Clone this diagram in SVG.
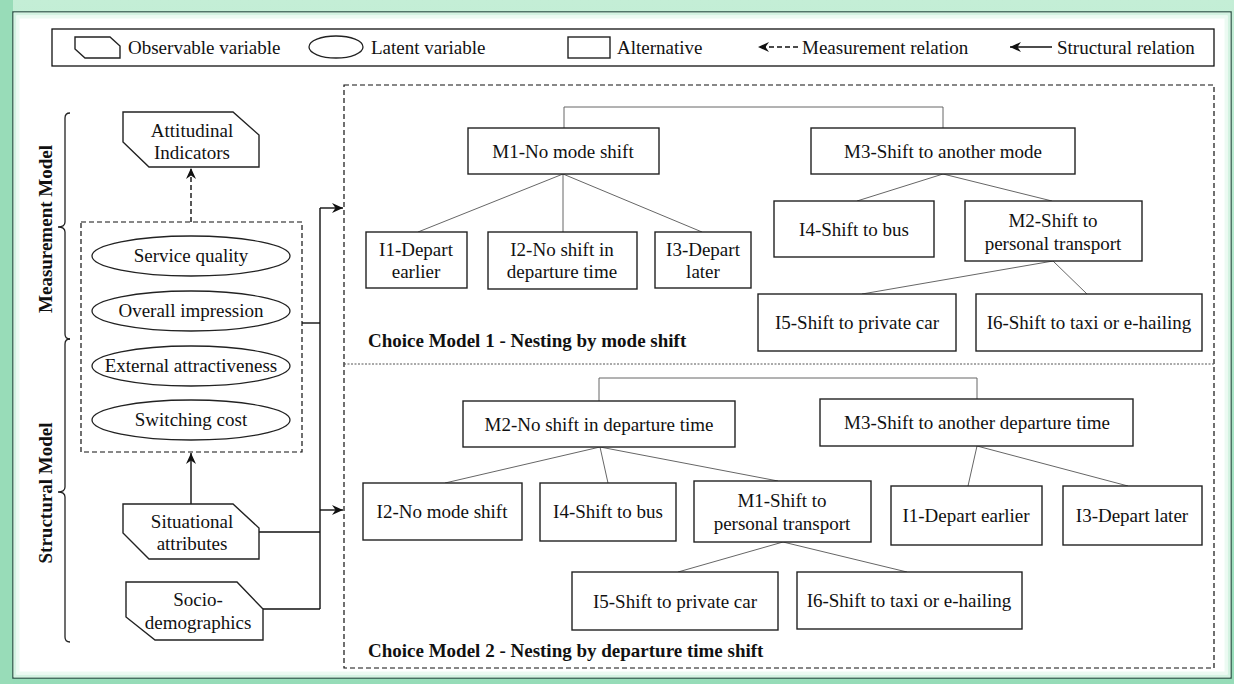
<svg xmlns="http://www.w3.org/2000/svg" width="1234" height="684" viewBox="0 0 1234 684">
<defs>
<style>
text{font-family:"Liberation Serif","Times New Roman",serif;font-size:19px;fill:#111;}
.c{text-anchor:middle;}
.b{font-weight:bold;}
.box{fill:#fff;stroke:#222;stroke-width:1.4;}
.obs{fill:#fff;stroke:#222;stroke-width:1.4;}
.ell{fill:#fff;stroke:#222;stroke-width:1.3;}
.tl{fill:none;stroke:#666;stroke-width:1;}
.sl{fill:none;stroke:#111;stroke-width:1.4;}
.dl{fill:none;stroke:#111;stroke-width:1.4;stroke-dasharray:5,3;}
.dbox{fill:none;stroke:#111;stroke-width:1.2;stroke-dasharray:5,3;}
.br{fill:none;stroke:#222;stroke-width:1.3;}
</style>
<marker id="arr" markerUnits="userSpaceOnUse" markerWidth="12" markerHeight="10" refX="11" refY="5" orient="auto">
<path d="M0,0 L11,5 L0,10 L3.5,5 z" fill="#111"/>
</marker>
<linearGradient id="fr" x1="0" y1="0" x2="0" y2="1">
<stop offset="0" stop-color="#c4eed6"/>
<stop offset="1" stop-color="#96dcb8"/>
</linearGradient>
</defs>

<g id="frame">
<rect x="0" y="0" width="1234" height="684" fill="url(#fr)"/>
<rect x="0" y="0" width="13" height="684" fill="#98dcb8"/>
<rect x="13" y="12" width="1218" height="666" fill="#fff" stroke="#2e4f45" stroke-width="1.5"/>
<rect x="15" y="14" width="1214" height="662" fill="none" stroke="#d4f3e2" stroke-width="3"/>
<rect x="18" y="17" width="1208" height="656" fill="none" stroke="#ecfaf2" stroke-width="3"/>
</g>

<g id="legend">
<rect x="52" y="29" width="1162" height="37" fill="#fff" stroke="#111" stroke-width="1.3"/>
<polygon class="obs" points="75,37 110,37 120,46 120,58 85,58 75,49"/>
<text x="128" y="54">Observable variable</text>
<ellipse class="ell" cx="336" cy="47" rx="27" ry="11"/>
<text x="371" y="54">Latent variable</text>
<rect class="box" x="568" y="37" width="42" height="21"/>
<text x="617" y="54">Alternative</text>
<line class="dl" x1="798" y1="47" x2="758" y2="47" stroke-dasharray="4,3" marker-end="url(#arr)"/>
<text x="802" y="54">Measurement relation</text>
<line class="sl" x1="1052" y1="47" x2="1010" y2="47" marker-end="url(#arr)"/>
<text x="1057" y="54">Structural relation</text>
</g>

<g id="measurement-brace">
<path class="br" d="M70,113 Q65,113 65,118 L65,222 Q65,227 58,227 Q65,227 65,232 L65,334 Q65,339 70,339"/>
<text class="b c" transform="translate(45,229) rotate(-90)" x="0" y="7">Measurement Model</text>
</g>
<g id="structural-brace">
<path class="br" d="M70,339 Q65,339 65,344 L65,487 Q65,492 58,492 Q65,492 65,497 L65,637 Q65,642 70,642"/>
<text class="b c" transform="translate(45,493) rotate(-90)" x="0" y="7">Structural Model</text>
</g>

<g id="connectors">
<line class="dl" x1="191" y1="222" x2="191" y2="168" marker-end="url(#arr)"/>
<line class="sl" x1="191" y1="504" x2="191" y2="453" marker-end="url(#arr)"/>
<polyline class="sl" points="302,323 320,323"/>
<line class="sl" x1="320" y1="208" x2="320" y2="609"/>
<line class="sl" x1="320" y1="208" x2="343" y2="208" marker-end="url(#arr)"/>
<line class="sl" x1="320" y1="510" x2="343" y2="510" marker-end="url(#arr)"/>
<line class="sl" x1="259" y1="532" x2="320" y2="532"/>
<line class="sl" x1="263" y1="609" x2="320" y2="609"/>
<polyline class="tl" points="564,128 564,107 943,107 943,128"/>
<line class="tl" x1="563" y1="174" x2="418" y2="232"/>
<line class="tl" x1="563" y1="174" x2="563" y2="232"/>
<line class="tl" x1="563" y1="174" x2="702" y2="232"/>
<line class="tl" x1="943" y1="174" x2="857" y2="201"/>
<line class="tl" x1="943" y1="174" x2="1052" y2="201"/>
<line class="tl" x1="1053" y1="261" x2="862" y2="294"/>
<line class="tl" x1="1053" y1="261" x2="1087" y2="294"/>
<polyline class="tl" points="599,401 599,378 977,378 977,399"/>
<line class="tl" x1="600" y1="447" x2="445" y2="483"/>
<line class="tl" x1="600" y1="447" x2="608" y2="483"/>
<line class="tl" x1="600" y1="447" x2="778" y2="481"/>
<line class="tl" x1="977" y1="446" x2="968" y2="486"/>
<line class="tl" x1="977" y1="446" x2="1128" y2="486"/>
<line class="tl" x1="783" y1="542" x2="678" y2="572"/>
<line class="tl" x1="783" y1="542" x2="907" y2="572"/>
</g>

<g id="attitudinal-indicators">
<polygon class="obs" points="123,112 233,112 259,135 259,167 149,167 123,142"/>
<text class="c" x="192" y="137">Attitudinal</text>
<text class="c" x="192" y="159">Indicators</text>
</g>

<g id="latent-box">
<rect class="dbox" x="81" y="222" width="221" height="230"/>
</g>
<g id="service-quality">
<ellipse class="ell" cx="191" cy="256" rx="99" ry="20"/>
<text class="c" x="191" y="262">Service quality</text>
</g>
<g id="overall-impression">
<ellipse class="ell" cx="191" cy="311" rx="99" ry="20"/>
<text class="c" x="191" y="317">Overall impression</text>
</g>
<g id="external-attractiveness">
<ellipse class="ell" cx="191" cy="366" rx="99" ry="20"/>
<text class="c" x="191" y="372">External attractiveness</text>
</g>
<g id="switching-cost">
<ellipse class="ell" cx="191" cy="420" rx="99" ry="20"/>
<text class="c" x="191" y="426">Switching cost</text>
</g>

<g id="situational-attributes">
<polygon class="obs" points="123,504 233,504 259,528 259,559 149,559 123,533"/>
<text class="c" x="192" y="528">Situational</text>
<text class="c" x="192" y="550">attributes</text>
</g>
<g id="socio-demographics">
<polygon class="obs" points="126,582 237,582 263,609 263,640 155,640 126,617"/>
<text class="c" x="198" y="606">Socio-</text>
<text class="c" x="198" y="629">demographics</text>
</g>

<g id="choice-models">
<rect class="dbox" x="344" y="85" width="870" height="583"/>
<line x1="344" y1="364" x2="1214" y2="364" stroke="#555" stroke-width="1" stroke-dasharray="2,1.5"/>
<text class="b" x="368" y="347">Choice Model 1 - Nesting by mode shift</text>
<text class="b" x="368" y="657">Choice Model 2 - Nesting by departure time shift</text>
</g>

<g id="cm1-m1">
<rect class="box" x="468" y="128" width="191" height="46"/>
<text class="c" x="563" y="158">M1-No mode shift</text>
</g>
<g id="cm1-m3">
<rect class="box" x="811" y="128" width="264" height="46"/>
<text class="c" x="943" y="158">M3-Shift to another mode</text>
</g>
<g id="cm1-i1">
<rect class="box" x="366" y="232" width="101" height="56"/>
<text class="c" x="416" y="256">I1-Depart</text>
<text class="c" x="416" y="278">earlier</text>
</g>
<g id="cm1-i2">
<rect class="box" x="488" y="232" width="149" height="57"/>
<text class="c" x="562" y="256">I2-No shift in</text>
<text class="c" x="562" y="278">departure time</text>
</g>
<g id="cm1-i3">
<rect class="box" x="655" y="232" width="96" height="56"/>
<text class="c" x="703" y="256">I3-Depart</text>
<text class="c" x="703" y="278">later</text>
</g>
<g id="cm1-i4">
<rect class="box" x="774" y="201" width="160" height="56"/>
<text class="c" x="854" y="236">I4-Shift to bus</text>
</g>
<g id="cm1-m2">
<rect class="box" x="965" y="201" width="177" height="60"/>
<text class="c" x="1053" y="227">M2-Shift to</text>
<text class="c" x="1053" y="250">personal transport</text>
</g>
<g id="cm1-i5">
<rect class="box" x="758" y="294" width="198" height="57"/>
<text class="c" x="857" y="329">I5-Shift to private car</text>
</g>
<g id="cm1-i6">
<rect class="box" x="976" y="294" width="226" height="57"/>
<text class="c" x="1089" y="329">I6-Shift to taxi or e-hailing</text>
</g>

<g id="cm2-m2">
<rect class="box" x="463" y="401" width="272" height="46"/>
<text class="c" x="599" y="431">M2-No shift in departure time</text>
</g>
<g id="cm2-m3">
<rect class="box" x="820" y="399" width="313" height="47"/>
<text class="c" x="977" y="429">M3-Shift to another departure time</text>
</g>
<g id="cm2-i2">
<rect class="box" x="363" y="483" width="159" height="57"/>
<text class="c" x="442" y="518">I2-No mode shift</text>
</g>
<g id="cm2-i4">
<rect class="box" x="540" y="483" width="136" height="58"/>
<text class="c" x="608" y="518">I4-Shift to bus</text>
</g>
<g id="cm2-m1">
<rect class="box" x="694" y="481" width="177" height="61"/>
<text class="c" x="782" y="507">M1-Shift to</text>
<text class="c" x="782" y="530">personal transport</text>
</g>
<g id="cm2-i1">
<rect class="box" x="891" y="486" width="151" height="59"/>
<text class="c" x="966" y="522">I1-Depart earlier</text>
</g>
<g id="cm2-i3">
<rect class="box" x="1063" y="486" width="139" height="59"/>
<text class="c" x="1132" y="522">I3-Depart later</text>
</g>
<g id="cm2-i5">
<rect class="box" x="572" y="572" width="206" height="58"/>
<text class="c" x="675" y="608">I5-Shift to private car</text>
</g>
<g id="cm2-i6">
<rect class="box" x="797" y="572" width="225" height="57"/>
<text class="c" x="909" y="607">I6-Shift to taxi or e-hailing</text>
</g>
</svg>
